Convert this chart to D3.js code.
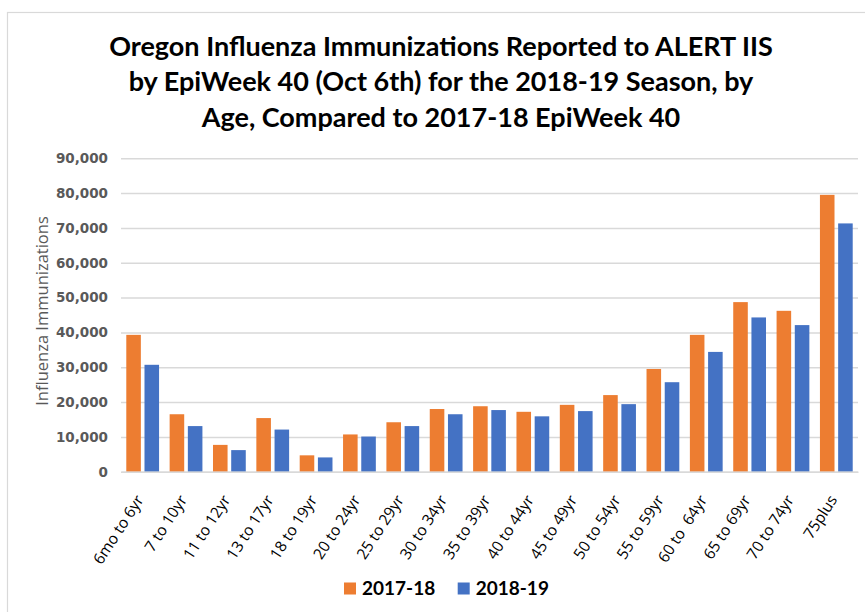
<!DOCTYPE html>
<html>
<head>
<meta charset="utf-8">
<script src="https://cdn.jsdelivr.net/npm/d3@7"></script>
<style>
  body { margin: 0; background: #fff; }
</style>
</head>
<body>
<div id="chart"></div>
<script>
let categories = ["6mo to 6yr", "7 to 10yr", "11 to 12yr", "13 to 17yr", "18 to 19yr", "20 to 24yr",
    "25 to 29yr", "30 to 34yr", "35 to 39yr", "40 to 44yr", "45 to 49yr", "50 to 54yr",
    "55 to 59yr", "60 to  64yr", "65 to 69yr", "70 to 74yr", "75plus"];
let seriesNames = ["2017-18", "2018-19"];
let values2017 = [39300, 16500, 7700, 15400, 4700, 10700, 14200, 18000, 18800, 17200, 19200, 22000, 29500, 39300, 48700, 46200, 79500];
let values2018 = [30700, 13100, 6200, 12100, 4100, 10100, 13100, 16500, 17700, 15900, 17400, 19400, 25700, 34400, 44300, 42100, 71300];
let yTicks = [0, 10000, 20000, 30000, 40000, 50000, 60000, 70000, 80000, 90000];
let titleLines = ["Oregon Influenza Immunizations Reported to ALERT IIS",
    "by EpiWeek 40 (Oct 6th) for the 2018-19 Season, by",
    "Age, Compared to 2017-18 EpiWeek 40"];

let colors = {"2017-18": "#ED7D31", "2018-19": "#4472C4"};

let width = 865, height = 612;
let plot = {left: 121, right: 858, top: 158.3, bottom: 471.7};

let svg = d3.select("#chart")
    .append("svg")
    .attr("width", width)
    .attr("height", height)
    .style("font-family", "'Open Sans', sans-serif");

// chart frame
svg.append("rect")
    .attr("x", 7.5)
    .attr("y", 12.5)
    .attr("width", 900)
    .attr("height", 700)
    .attr("fill", "#fff")
    .attr("stroke", "#d9d9d9")
    .attr("stroke-width", 1.2);

// title
svg.append("g")
    .selectAll("text")
    .data(titleLines)
    .enter()
    .append("text")
    .attr("x", 441)
    .attr("y", (d, i) => 55.5 + i * 35.5)
    .attr("text-anchor", "middle")
    .attr("font-family", "Lato, 'Open Sans', sans-serif")
    .attr("font-weight", "bold")
    .attr("font-size", "27px")
    .attr("fill", "#000")
    .text(d => d);

let x0 = d3.scaleBand()
    .domain(categories)
    .range([plot.left, plot.right])
    .paddingInner(0.244)
    .paddingOuter(0.122);

let x1 = d3.scaleBand()
    .domain(seriesNames)
    .range([0, x0.bandwidth()])
    .paddingInner(0.2);

let y = d3.scaleLinear()
    .domain([0, 90000])
    .range([plot.bottom, plot.top]);

// gridlines
let yAxis = d3.axisLeft(y)
    .tickValues(yTicks)
    .tickSize(-(plot.right - plot.left))
    .tickPadding(13)
    .tickFormat(d3.format(","));

let gy = svg.append("g")
    .attr("transform", "translate(" + plot.left + ",0)")
    .call(yAxis);
gy.select(".domain").remove();
gy.selectAll(".tick line")
    .attr("stroke", "#d9d9d9")
    .attr("stroke-width", 1.5);
gy.selectAll(".tick text")
    .attr("font-family", "'DejaVu Sans', sans-serif")
    .attr("font-weight", "bold")
    .attr("font-size", "13.5px")
    .attr("fill", "#595959");

// bars
let rows = categories.map((c, i) => ({cat: c, vals: [
    {name: seriesNames[0], value: values2017[i]},
    {name: seriesNames[1], value: values2018[i]}
]}));

svg.append("g")
    .selectAll("g")
    .data(rows)
    .enter()
    .append("g")
    .attr("transform", d => "translate(" + x0(d.cat) + ",0)")
    .selectAll("rect")
    .data(d => d.vals)
    .enter()
    .append("rect")
    .attr("x", d => x1(d.name))
    .attr("y", d => y(d.value))
    .attr("width", x1.bandwidth())
    .attr("height", d => y(0) - y(d.value))
    .attr("fill", d => colors[d.name]);

// x axis line
let xAxis = d3.axisBottom(x0).tickSize(0).tickPadding(0);
let gx = svg.append("g")
    .attr("transform", "translate(0," + plot.bottom + ")")
    .call(xAxis);
gx.select(".domain")
    .attr("stroke", "#d9d9d9")
    .attr("stroke-width", 1.5);
gx.selectAll(".tick text")
    .attr("font-family", "'Open Sans', sans-serif")
    .attr("font-size", "15.5px")
    .attr("fill", "#000")
    .attr("text-anchor", "end")
    .attr("dy", "0.35em")
    .style("white-space", "pre")
    .attr("transform", "translate(-3,25) rotate(-57)");

// y axis title
svg.append("text")
    .attr("transform", "translate(48,311) rotate(-90)")
    .attr("text-anchor", "middle")
    .attr("font-size", "16.5px")
    .attr("fill", "#595959")
    .text("Influenza Immunizations");

// legend
let legendX = [344, 457.7];
let legend = svg.append("g")
    .selectAll("g")
    .data(seriesNames)
    .enter()
    .append("g")
    .attr("transform", (d, i) => "translate(" + legendX[i] + ",582.5)");

legend.append("rect")
    .attr("width", 12)
    .attr("height", 12)
    .attr("fill", d => colors[d]);

legend.append("text")
    .attr("x", 18)
    .attr("y", 12)
    .attr("font-family", "Lato, 'Open Sans', sans-serif")
    .attr("font-weight", "bold")
    .attr("font-size", "19px")
    .attr("fill", "#000")
    .text(d => d);
</script>
</body>
</html>
